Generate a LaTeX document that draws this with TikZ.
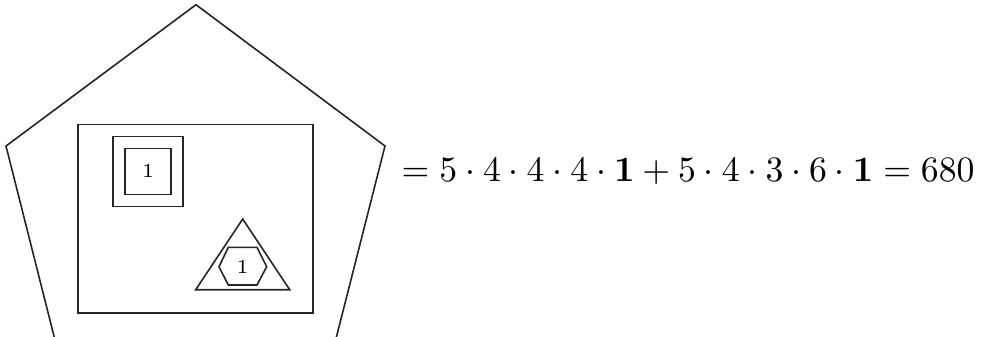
\documentclass[tikz,border=0pt]{standalone}
\usepackage{amsmath}
\tikzset{
  shapeline/.style={draw=black!85, line width=0.45pt, line join=miter},
  smalllabel/.style={inner sep=0pt, font=\fontsize{5.5}{6}\selectfont},
}
\begin{document}
\begin{tikzpicture}[x=0.28pt, y=-0.28pt]
\path[use as bounding box] (0,0) rectangle (984,336);
\begin{scope}
\clip (0,0) rectangle (984,336);
% outer pentagon (bottom part cut off)
\draw[shapeline] (57.5,350) -- (6,146) -- (196,4.7) -- (385,146) -- (333.1,350);
\end{scope}
% big rectangle
\draw[shapeline] (77.7,124.5) rectangle (312.7,313);
% nested squares
\draw[shapeline] (113.3,136.3) rectangle (183,206.3);
\draw[shapeline] (125,148.3) rectangle (171.3,194.3);
\node[smalllabel] (sq) at (148.2,171.3) {1};
% triangle with hexagon
\draw[shapeline] (242.7,219) -- (289.7,289.7) -- (195.7,289.7) -- cycle;
\draw[shapeline] (219,266.7) -- (228.3,247.3) -- (257,247.3) -- (266.7,266.7) -- (257,285) -- (228.3,285) -- cycle;
\node[smalllabel] (hx) at (242.7,266.7) {1};
% formula
\node[anchor=base west, inner sep=0pt] (eq) at (401,181)
  {$=5\cdot 4\cdot 4\cdot 4\cdot \mathbf{1}+5\cdot 4\cdot 3\cdot 6\cdot \mathbf{1}=680$};
\end{tikzpicture}
\end{document}
